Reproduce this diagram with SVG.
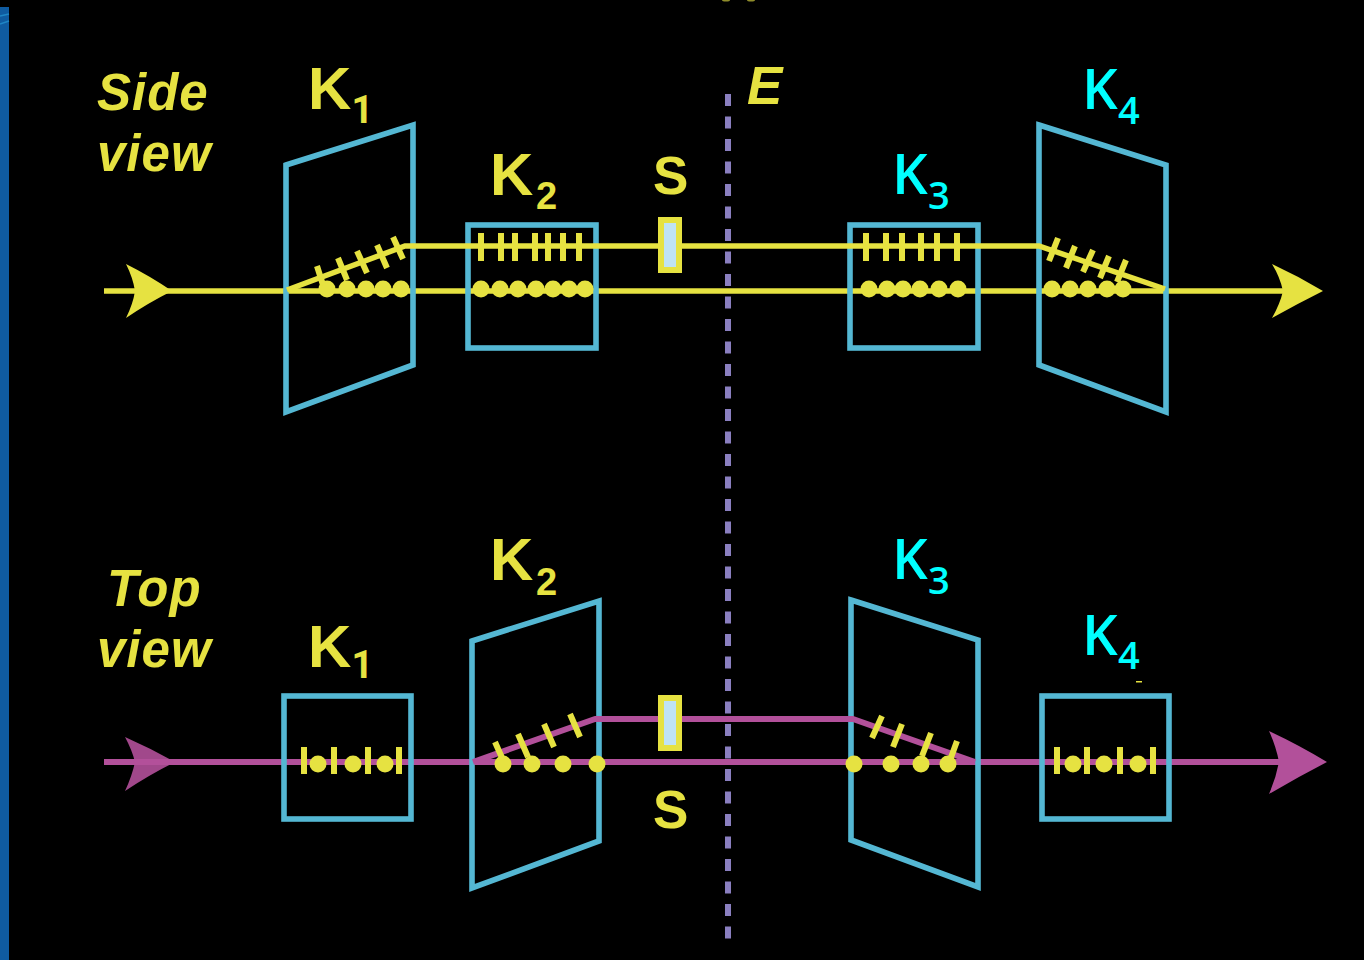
<svg xmlns="http://www.w3.org/2000/svg" width="1364" height="960" viewBox="0 0 1364 960">
<style>
.frame{fill:none;stroke:#54b7d3;stroke-width:5.6;stroke-linejoin:miter}
.yl{fill:none;stroke:#e6e241;stroke-width:5.5}
.mg{fill:none;stroke:#b2509a;stroke-width:6;stroke-linejoin:round}
.tick{stroke:#e6e241;stroke-width:6;fill:none}
.dot{fill:#e6e241}
.ya{fill:#e6e241}
.ma{fill:#b2509a}
.slit{fill:#bfe3f5;stroke:#e6e241;stroke-width:6}
.lab{font-family:"Liberation Sans",Arial,sans-serif;font-weight:bold;fill:#e6e241}
.it{font-style:italic;font-size:51px;letter-spacing:1px}
.ky{font-size:60px}
.ks{font-size:38px}
.k1{font-family:Roboto,sans-serif;font-size:38px;font-weight:bold;fill:#e6e241}
.kc{font-family:"Open Sans","Noto Sans",sans-serif;font-weight:600;fill:#00ffff;font-size:56px}
.kcs{font-size:38px}
.sl{font-size:53px}
</style>
<rect width="1364" height="960" fill="#000"/>
<g id="edge-bar">
<rect x="0" y="7" width="9" height="953" fill="#0f5ba0"/>
<path d="M0 16L9 14M0 24L9 21" stroke="#1f86c4" stroke-width="1.5" fill="none"/>
<ellipse cx="726" cy="0" rx="4" ry="1.5" fill="#8f8c2a"/>
<ellipse cx="751" cy="0" rx="4" ry="1.5" fill="#8f8c2a"/>
</g>
<g id="plane-E">
<line x1="728" y1="94" x2="728" y2="942" stroke="#8a7fc0" stroke-width="6" stroke-dasharray="12 10.5"/>
<text class="lab it" x="747" y="104" style="font-size:53px">E</text>
</g>
<g id="connectors-under">
<line class="yl" x1="104" y1="291" x2="1290" y2="291"/>
<path class="ya" d="M126 264Q150 276 172 291Q148 303 126 318Q133 304 135 291Q133 278 126 264Z"/>
<path class="ya" d="M1272 264Q1298 276 1323 291Q1297 304 1272 318Q1280 304 1283 291Q1280 277 1272 264Z"/>
<line class="mg" x1="104" y1="762" x2="1290" y2="762"/>
<path class="ma" fill-opacity="0.9" d="M125 737Q150 748 175 762Q149 775 125 791Q132 776 135 762Q132 750 125 737Z"/>
<path class="ma" d="M1269 731Q1299 745 1327 762Q1298 777 1269 794Q1276 778 1279 762Q1276 746 1269 731Z"/>
</g>
<g id="side-label"><text class="lab it" x="97" y="110">Side</text><text class="lab it" x="97" y="171">view</text></g>
<g id="top-label"><text class="lab it" x="107" y="606">Top</text><text class="lab it" x="97" y="667">view</text></g>
<g id="side-K1">
<polygon class="frame" points="286,165 413,125 413,365 286,412"/>
<text class="lab ky" x="308" y="109">K</text><text class="k1" x="351.6" y="123">1</text>
</g>
<g id="side-K2">
<rect class="frame" x="468" y="225" width="128" height="123"/>
<text class="lab ky" x="490" y="195">K</text><text class="lab ks" x="536" y="209">2</text>
</g>
<g id="side-K3">
<rect class="frame" x="850" y="225" width="128" height="123"/>
<text class="kc" x="892" y="194">K</text><text class="kc kcs" x="928" y="209">3</text>
</g>
<g id="side-K4">
<polygon class="frame" points="1039,125 1166,165 1166,412 1039,365"/>
<text class="kc" x="1082" y="109">K</text><text class="kc kcs" x="1118" y="124">4</text>
</g>
<g id="top-K1">
<rect class="frame" x="284" y="696" width="127" height="123"/>
<text class="lab ky" x="308" y="667">K</text><text class="k1" x="351.6" y="678">1</text>
</g>
<g id="top-K2">
<polygon class="frame" points="472,641 599,601 599,841 472,888"/>
<text class="lab ky" x="490" y="580">K</text><text class="lab ks" x="536" y="595">2</text>
</g>
<g id="top-K3">
<polygon class="frame" points="851,600 978,640 978,887 851,840"/>
<text class="kc" x="892" y="579">K</text><text class="kc kcs" x="928" y="594">3</text>
</g>
<g id="top-K4">
<rect class="frame" x="1042" y="696" width="127" height="123"/>
<text class="kc" x="1082" y="655">K</text><text class="kc kcs" x="1118" y="669">4</text>
<rect x="1136" y="681" width="6" height="1.5" fill="#e6e241"/>
</g>
<g id="connectors-over">
<polyline class="yl" points="287,290 405,246 1039,246 1165,289"/>
<polyline class="mg" points="473,762 595,719 853,719 975,762"/>
</g>
<g id="side-dots" class="dot">
<circle cx="327" cy="289" r="8.5"/><circle cx="347" cy="289" r="8.5"/><circle cx="366" cy="289" r="8.5"/><circle cx="383" cy="289" r="8.5"/><circle cx="401" cy="289" r="8.5"/>
<circle cx="481" cy="289" r="8.5"/><circle cx="500" cy="289" r="8.5"/><circle cx="518" cy="289" r="8.5"/><circle cx="536" cy="289" r="8.5"/><circle cx="553" cy="289" r="8.5"/><circle cx="569" cy="289" r="8.5"/><circle cx="585" cy="289" r="8.5"/>
<circle cx="869" cy="289" r="8.5"/><circle cx="887" cy="289" r="8.5"/><circle cx="903" cy="289" r="8.5"/><circle cx="920" cy="289" r="8.5"/><circle cx="939" cy="289" r="8.5"/><circle cx="958" cy="289" r="8.5"/>
<circle cx="1052" cy="289" r="8.5"/><circle cx="1070" cy="289" r="8.5"/><circle cx="1088" cy="289" r="8.5"/><circle cx="1107" cy="289" r="8.5"/><circle cx="1123" cy="289" r="8.5"/>
</g>
<g id="side-ticks" class="tick">
<path d="M317 266L323 285M338 258L347 280M357 251L367 273M377 245L387 268M393 237L403 259"/>
<path d="M481 233V261M501 233V261M515 233V261M535 233V261M548 233V261M563 233V261M579 233V261"/>
<path d="M866 233V261M886 233V261M902 233V261M921 233V261M937 233V261M957 233V261"/>
<path d="M1058 238L1049 261M1075 246L1066 268M1093 250L1083 272M1109 256L1100 278M1126 260L1117 282"/>
</g>
<g id="top-dots" class="dot">
<circle cx="318" cy="764" r="8.5"/><circle cx="353" cy="764" r="8.5"/><circle cx="385" cy="764" r="8.5"/>
<circle cx="503" cy="764" r="8.5"/><circle cx="532" cy="764" r="8.5"/><circle cx="563" cy="764" r="8.5"/><circle cx="597" cy="764" r="8.5"/>
<circle cx="854" cy="764" r="8.5"/><circle cx="891" cy="764" r="8.5"/><circle cx="921" cy="764" r="8.5"/><circle cx="948" cy="764" r="8.5"/>
<circle cx="1073" cy="764" r="8.5"/><circle cx="1104" cy="764" r="8.5"/><circle cx="1138" cy="764" r="8.5"/>
</g>
<g id="top-ticks" class="tick">
<path d="M304 747V774M334 747V774M368 747V774M399 747V774"/>
<path d="M495 742L503 760M518 734L528 757M544 724L554 747M570 714L580 737"/>
<path d="M882 716L872 738M902 724L893 747M931 733L922 756M957 741L949 763"/>
<path d="M1057 747V774M1087 747V774M1120 747V774M1153 747V774"/>
</g>
<g id="slit-side">
<rect class="slit" x="661" y="220" width="18" height="50"/>
<text class="lab sl" x="653" y="194">S</text>
</g>
<g id="slit-top">
<rect class="slit" x="661" y="698" width="18" height="50"/>
<text class="lab sl" x="653" y="828">S</text>
</g>
</svg>
